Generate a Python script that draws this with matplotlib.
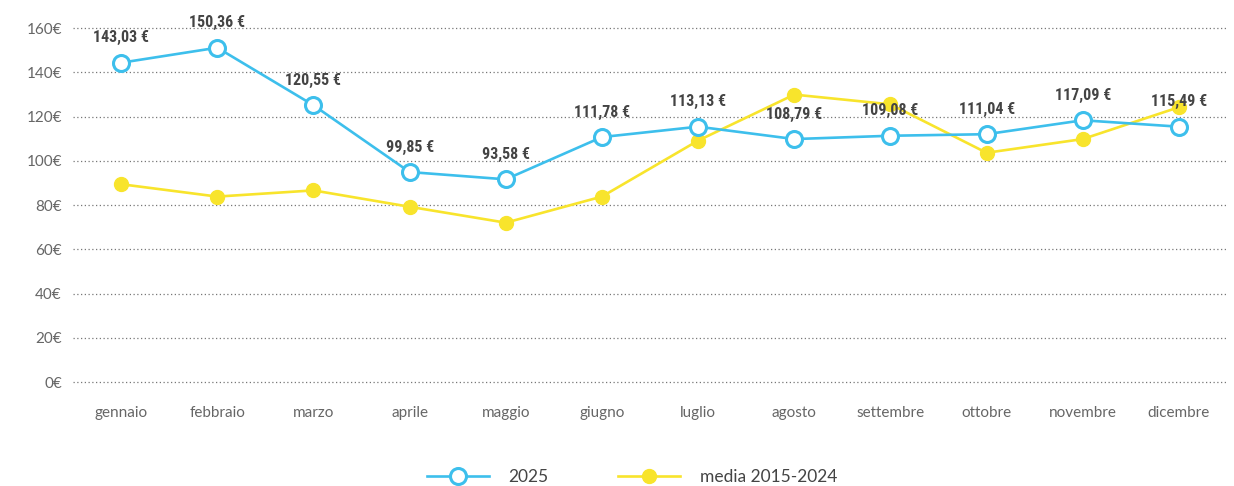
import matplotlib
matplotlib.use("Agg")
import matplotlib.pyplot as plt
from matplotlib import font_manager

months = ["gennaio", "febbraio", "marzo", "aprile", "maggio", "giugno",
          "luglio", "agosto", "settembre", "ottobre", "novembre", "dicembre"]
values_2025 = [144.3, 151.1, 125.1, 94.9, 91.6, 110.7, 115.4, 109.8, 111.3, 112.0, 118.3, 115.4]
labels_2025 = ["143,03 €", "150,36 €", "120,55 €", "99,85 €", "93,58 €", "111,78 €",
               "113,13 €", "108,79 €", "109,08 €", "111,04 €", "117,09 €", "115,49 €"]
values_media = [89.4, 83.8, 86.6, 79.2, 72.0, 83.8, 109.1, 129.9, 125.5, 103.6, 109.8, 124.2]
y_ticks = [0, 20, 40, 60, 80, 100, 120, 140, 160]
y_tick_labels = [f"{v}€" for v in y_ticks]
series_names = ["2025", "media 2015-2024"]

available = {f.name for f in font_manager.fontManager.ttflist}
def pick(cands):
    for c in cands:
        if c in available:
            return [c, "DejaVu Sans"]
    return ["DejaVu Sans"]

label_family = pick(["Roboto Condensed", "Liberation Sans Narrow", "Roboto"])
tick_family = pick(["Lato", "Open Sans", "Roboto"])
plt.rcParams["font.family"] = tick_family

BLUE = "#3DBFEC"
YELLOW = "#F8E42C"

fig = plt.figure(figsize=(12.34, 4.86), dpi=100)
ax = fig.add_axes([73/1234, 1-382/486, (1227-73)/1234, (382-28)/486])

x = list(range(len(months)))
ax.plot(x, values_media, color=YELLOW, lw=1.9, marker="o", ms=10, mfc=YELLOW, mec=YELLOW,
        label=series_names[1], zorder=3, clip_on=False)
ax.plot(x, values_2025, color=BLUE, lw=1.9, marker="o", ms=11.5, mfc="white", mec=BLUE, mew=2.2,
        label=series_names[0], zorder=4, clip_on=False)

for xi, v, lab in zip(x, values_2025, labels_2025):
    ax.annotate(lab, (xi, v), xytext=(0, 18), textcoords="offset points",
                ha="center", va="center", fontsize=11.5, fontweight="bold", color="#444444",
                zorder=5, family=label_family)

ax.set_xlim(-0.5, 11.5)
ax.set_ylim(0, 160)
ax.set_yticks(y_ticks)
ax.set_yticklabels(y_tick_labels)
ax.set_xticks(x)
ax.set_xticklabels(months)
ax.tick_params(axis="both", length=0, labelsize=11, labelcolor="#666666")
ax.tick_params(axis="y", pad=8)
ax.tick_params(axis="x", pad=17)
for s in ax.spines.values():
    s.set_visible(False)
ax.yaxis.grid(True, linestyle=(0, (1, 2)), color="#777777", lw=0.9)
for gl in ax.get_ygridlines():
    gl.set_clip_on(False)
ax.set_axisbelow(True)

h, l = ax.get_legend_handles_labels()
leg = fig.legend([h[1], h[0]], [l[1], l[0]], loc="center", bbox_to_anchor=(0.512, 0.0185),
                 ncol=2, frameon=False, fontsize=12.5, handlelength=3.6, handletextpad=1.1,
                 columnspacing=4.0, labelcolor="#444444")

fig.savefig("out.png", dpi=100)
